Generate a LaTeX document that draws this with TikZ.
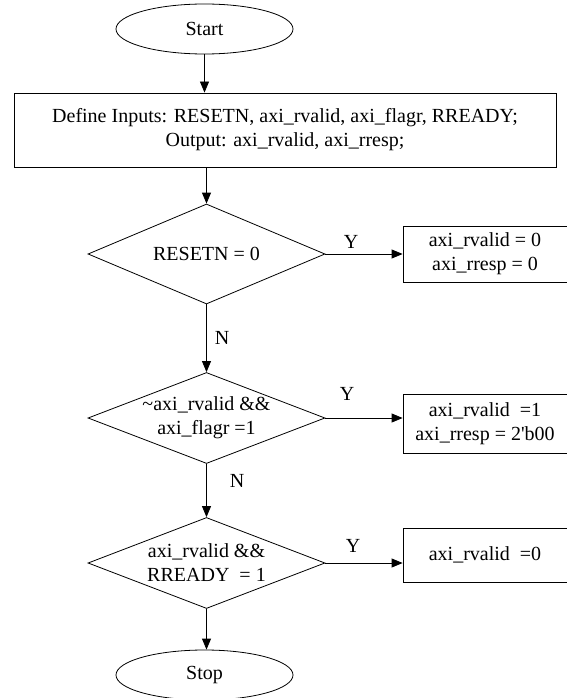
\documentclass[tikz,border=0pt]{standalone}
\usepackage{fontspec}
\setmainfont{Liberation Serif}
\usetikzlibrary{shapes.geometric,arrows.meta}
\begin{document}
\begin{tikzpicture}[x=1pt,y=-1pt, font=\fontsize{20}{24}\selectfont, line width=0.8pt,
 terminal/.style={ellipse, draw, minimum width=177pt, minimum height=50pt, inner sep=0pt},
 procbox/.style={rectangle, draw, align=center, inner sep=0pt, minimum width=169pt},
 decision/.style={diamond, draw, minimum width=237pt, minimum height=91pt, inner sep=0pt},
 txt/.style={align=center, inner sep=0pt},
 flow/.style={-{Triangle[length=11pt,width=9pt]}}]
\useasboundingbox (0,0) rectangle (566,698);
\node[terminal] (start) at (204.5,29) {Start};
\node[procbox, minimum width=542pt, minimum height=74pt] (def) at (285,130) {Define Inputs: RESETN, axi\_rvalid, axi\_flagr, RREADY;\\Output: axi\_rvalid, axi\_rresp;};
\node[decision, minimum height=100pt] (d1) at (206.5,254) {};
\node[txt] (d1t) at (d1.center) {RESETN = 0};
\node[procbox, minimum height=56pt] (b1) at (487.5,254) {};
\node[txt] (b1t) at (485,254) {axi\_rvalid = 0\\axi\_rresp = 0};
\node[decision] (d2) at (206.5,418) {};
\node[txt] (d2t) at (d2.center) {\textasciitilde axi\_rvalid \&\&\\axi\_flagr =1};
\node[procbox, minimum height=59pt] (b2) at (487.5,423.5) {};
\node[txt] (b2t) at (485,423.5) {axi\_rvalid\ \ =1\\axi\_rresp = 2\textquotesingle b00};
\node[decision] (d3) at (206.5,563) {};
\node[txt] (d3t) at (d3.center) {axi\_rvalid \&\&\\RREADY\ \ = 1};
\node[procbox, minimum height=54pt] (b3) at (487.5,555) {};
\node[txt] (b3t) at (485,555) {axi\_rvalid\ \ =0};
\node[terminal] (stop) at (204.5,675) {Stop};
\draw[flow] (start) -- (def.north -| start);
\draw[flow] (def.south -| d1) -- (d1.north);
\draw[flow] (d1.east) -- (d1.east -| b1.west);
\draw[flow] (d1.south) -- (d2.north);
\draw[flow] (d2.east) -- (d2.east -| b2.west);
\draw[flow] (d2.south) -- (d3.north);
\draw[flow] (d3.east) -- (d3.east -| b3.west);
\draw[flow] (d3.south) -- (d3.south |- stop.north);
\node (y1) at (351,242) {Y};
\node (n1) at (222,338) {N};
\node (y2) at (347,394) {Y};
\node (n2) at (237,481) {N};
\node (y3) at (353,546) {Y};
\end{tikzpicture}
\end{document}
